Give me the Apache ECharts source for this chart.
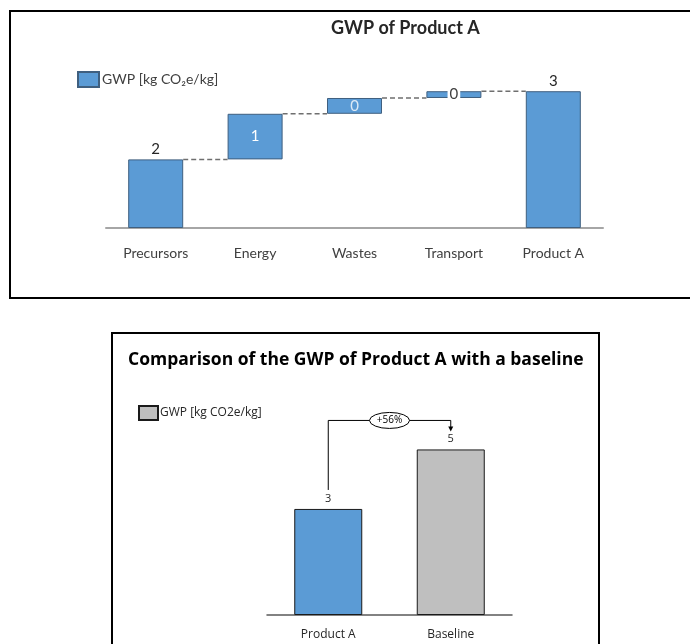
<!DOCTYPE html>
<html>
<head>
<meta charset="utf-8">
<script src="https://cdn.jsdelivr.net/npm/echarts@6/dist/echarts.min.js"></script>
<style>
  html, body { margin: 0; padding: 0; background: #fff; }
  #main { width: 690px; height: 644px; }
</style>
</head>
<body>
<div id="main"></div>
<script>
// waterfall data (top chart)
var steps = ['Precursors', 'Energy', 'Wastes', 'Transport'];
var stepValues = [1.52, 1.01, 0.35, 0.15];
var totalName = 'Product A';

// comparison data (bottom chart)
var compareCategories = ['Product A', 'Baseline'];
var compareValues = [3.03, 4.73];
var changeText = '+56%';

var blue = '#5b9bd5';
var grey = '#bfbfbf';

var categories = steps.concat([totalName]);
var baseData = [];
var cumulative = [];
var running = 0;
for (var i = 0; i < stepValues.length; i++) {
    baseData.push(running);
    running += stepValues[i];
    cumulative.push(running);
}
baseData.push(0);
var total = running;
var shownData = stepValues.concat([total]);

var fmt = function (p) { return Math.round(p.value).toString(); };

var shownItems = shownData.map(function (v, i) {
    var item = { value: v };
    if (i === 1 || i === 2) {
        item.label = { position: 'inside', color: i === 1 ? '#ffffff' : '#dbe9f6' };
    } else if (i === 3) {
        item.label = { position: 'inside', color: '#404040', backgroundColor: '#ffffff', padding: [0, 2], fontSize: 15 };
    }
    return item;
});

var connectorData = cumulative.map(function (c, i) { return [i, c]; });

var myChart = echarts.init(document.getElementById('main'));

var option = {
    backgroundColor: '#ffffff',
    animation: false,
    title: [{
        text: 'GWP of Product A',
        left: 326, top: 14,
        textStyle: { fontFamily: 'Lato', fontSize: 18, fontWeight: 'bold', color: '#262626' }
    }, {
        text: 'Comparison of the GWP of Product A with a baseline',
        left: 123, top: 346,
        textStyle: { fontFamily: 'Open Sans', fontSize: 17.5, fontWeight: 'bold', color: '#000000' }
    }],
    legend: [{
        data: ['GWP [kg CO\u2082e/kg]'],
        left: 77, top: 71, padding: 0,
        icon: 'rect',
        itemWidth: 21, itemHeight: 15, itemGap: 4,
        textStyle: { fontFamily: 'Lato', fontSize: 14, color: '#404040', padding: [0, 0, 0, -2] }
    }, {
        data: ['GWP [kg CO2e/kg]'],
        left: 138, top: 405, padding: 0,
        icon: 'rect',
        itemWidth: 19, itemHeight: 14, itemGap: 4,
        textStyle: { fontFamily: 'Open Sans', fontSize: 12, color: '#262626', padding: [0, 0, 0, -3] }
    }],
    grid: [
        { left: 106, right: 87, top: 70, bottom: 416 },
        { left: 267, right: 178, top: 405, bottom: 29 }
    ],
    xAxis: [{
        type: 'category', gridIndex: 0, data: categories,
        axisLine: { lineStyle: { color: '#a6a6a6', width: 2 } },
        axisTick: { show: false },
        axisLabel: { margin: 18, fontFamily: 'Lato', fontSize: 14, color: '#404040' }
    }, {
        type: 'category', gridIndex: 1, data: compareCategories,
        axisLine: { lineStyle: { color: '#595959', width: 1.5 } },
        axisTick: { show: false },
        axisLabel: { margin: 14, fontFamily: 'Open Sans', fontSize: 12, color: '#262626' }
    }],
    yAxis: [{
        type: 'value', gridIndex: 0, min: 0, max: 3.5, show: false, splitLine: { show: false }
    }, {
        type: 'value', gridIndex: 1, min: 0, max: 6, show: false, splitLine: { show: false }
    }],
    series: [{
        name: 'base', type: 'bar', stack: 'wf', xAxisIndex: 0, yAxisIndex: 0,
        barWidth: 55, silent: true,
        itemStyle: { color: 'transparent' },
        data: baseData
    }, {
        name: 'GWP [kg CO\u2082e/kg]', type: 'bar', stack: 'wf', xAxisIndex: 0, yAxisIndex: 0,
        barWidth: 55,
        itemStyle: { color: blue, borderColor: '#3f5f7f', borderWidth: 1 },
        label: {
            show: true, position: 'top', distance: 3, formatter: fmt,
            fontFamily: 'Lato', fontSize: 15, color: '#262626'
        },
        data: shownItems
    }, {
        name: 'connectors', type: 'custom', xAxisIndex: 0, yAxisIndex: 0, silent: true,
        renderItem: function (params, api) {
            var p = api.coord([api.value(0), api.value(1)]);
            var step = api.size([1, 0])[0];
            return {
                type: 'line',
                shape: { x1: p[0] + 27.5, y1: p[1], x2: p[0] + step - 27.5, y2: p[1] },
                style: { stroke: '#6f6f6f', lineWidth: 1.5, lineDash: [5, 3] }
            };
        },
        data: connectorData
    }, {
        name: 'GWP [kg CO2e/kg]', type: 'bar', xAxisIndex: 1, yAxisIndex: 1,
        barWidth: 68,
        itemStyle: { color: grey, borderColor: '#1a1a1a', borderWidth: 1 },
        label: {
            show: true, position: 'top', distance: 5, formatter: fmt,
            fontFamily: 'Open Sans', fontSize: 11, color: '#262626'
        },
        data: [
            { value: compareValues[0], itemStyle: { color: blue } },
            { value: compareValues[1] }
        ]
    }, {
        name: 'change', type: 'custom', xAxisIndex: 1, yAxisIndex: 1, silent: true,
        renderItem: function (params, api) {
            var a = api.coord([0, compareValues[0]]);
            var b = api.coord([1, compareValues[1]]);
            var topY = b[1] - 29;
            var midX = (a[0] + b[0]) / 2;
            var rx = 20, ry = 8;
            return {
                type: 'group',
                children: [{
                    type: 'polyline',
                    shape: { points: [[a[0], a[1] - 19], [a[0], topY], [b[0], topY], [b[0], b[1] - 22]] },
                    style: { stroke: '#000', lineWidth: 1, fill: null }
                }, {
                    type: 'polygon',
                    shape: { points: [[b[0] - 2.5, b[1] - 23], [b[0] + 2.5, b[1] - 23], [b[0], b[1] - 18]] },
                    style: { fill: '#000' }
                }, {
                    type: 'path',
                    shape: {
                        pathData: 'M' + (midX - rx) + ' ' + topY +
                            ' A' + rx + ' ' + ry + ' 0 1 0 ' + (midX + rx) + ' ' + topY +
                            ' A' + rx + ' ' + ry + ' 0 1 0 ' + (midX - rx) + ' ' + topY + ' Z'
                    },
                    style: { fill: '#fff', stroke: '#000', lineWidth: 1 }
                }, {
                    type: 'text',
                    style: {
                        text: changeText, x: midX, y: topY, align: 'center', verticalAlign: 'middle',
                        fontFamily: 'Open Sans', fontSize: 10, fill: '#000'
                    }
                }]
            };
        },
        data: [[0, 0]]
    }],
    graphic: [{
        type: 'rect', silent: true,
        shape: { x: 10, y: 11, width: 700, height: 287 },
        style: { fill: null, stroke: '#000', lineWidth: 2 }
    }, {
        type: 'rect', silent: true,
        shape: { x: 112, y: 333, width: 487, height: 330 },
        style: { fill: null, stroke: '#000', lineWidth: 2 }
    }]
};
myChart.setOption(option);
</script>
</body>
</html>
